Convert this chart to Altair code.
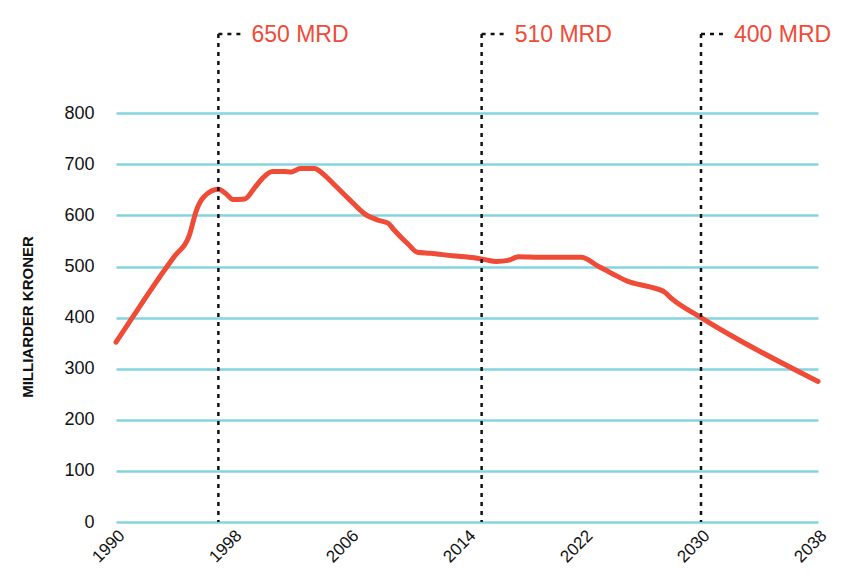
import altair as alt
import pandas as pd

# Series
years = [1990, 1991, 1992, 1993, 1994, 1995, 1995.5, 1996, 1997, 1997.5, 1998, 1998.8,
         1999.5, 2000, 2000.7, 2001.5, 2002, 2002.6, 2003.6, 2004, 2005, 2006, 2007,
         2008, 2008.6, 2009, 2010, 2010.6, 2011.5, 2013, 2014.5, 2015.3, 2016, 2016.8,
         2017.5, 2019, 2021.8, 2023, 2024, 2025, 2026.5, 2027.5, 2028, 2030, 2038]
values = [352, 395, 438, 480, 520, 560, 610, 636, 651, 643, 631, 632,
          655, 672, 686, 686, 685, 692, 692, 685, 658, 630, 603,
          590, 585, 572, 543, 528, 526, 521, 517, 513, 510, 512,
          519, 518, 518, 500, 485, 471, 460, 450, 437, 400, 275]

# Annotations
mark_years = [1997, 2015, 2030]
mark_labels = ["650 MRD", "510 MRD", "400 MRD"]

x_ticks = [1990, 1998, 2006, 2014, 2022, 2030, 2038]
y_ticks = [0, 100, 200, 300, 400, 500, 600, 700, 800]

FONT = "Liberation Sans, Arial, sans-serif"
RED = "#f04b37"
GRID = "#84d4e0"

df = pd.DataFrame({"year": years, "value": values})
ann = pd.DataFrame({"year": mark_years, "label": mark_labels})

xscale = alt.Scale(domain=[1990, 2038], nice=False, zero=False)
yscale = alt.Scale(domain=[0, 955], nice=False)

line = alt.Chart(df).mark_line(
    color=RED, strokeWidth=5, interpolate="monotone", strokeCap="round"
).encode(
    x=alt.X("year:Q", scale=xscale,
            axis=alt.Axis(values=x_ticks, format="d", title=None, grid=False,
                          labelAngle=-45, labelFont=FONT, labelFontSize=17,
                          labelColor="#111", domain=False, ticks=False,
                          labelPadding=5)),
    y=alt.Y("value:Q", scale=yscale,
            axis=alt.Axis(values=y_ticks, title=None, grid=True, gridColor=GRID,
                          gridWidth=2.5, labelFont=FONT, labelFontSize=18,
                          labelColor="#111", domain=False, ticks=False,
                          labelPadding=22)),
)

vrules = alt.Chart(ann).mark_rule(
    color="#111", strokeWidth=2.5, strokeDash=[4, 5]
).encode(
    x=alt.X("year:Q", scale=xscale),
    y=alt.value(0),
    y2=alt.value(488),
)

hrules = alt.Chart(ann).transform_calculate(
    year2="datum.year + 1.6"
).mark_rule(
    color="#111", strokeWidth=2.5, strokeDash=[4, 5]
).encode(
    x=alt.X("year:Q", scale=xscale),
    x2="year2:Q",
    y=alt.value(0),
)

labels = alt.Chart(ann).mark_text(
    color=RED, font=FONT, fontSize=23, align="left", baseline="alphabetic", dx=33
).encode(
    x=alt.X("year:Q", scale=xscale),
    y=alt.value(8),
    text="label:N",
)

ytitle = alt.Chart(pd.DataFrame({"t": ["MILLIARDER KRONER"]})).mark_text(
    font=FONT, fontSize=15, fontWeight="bold", color="#111", angle=270,
    align="center", baseline="middle"
).encode(
    x=alt.value(-88),
    y=alt.value(283),
    text="t:N",
)

chart = alt.layer(line, vrules, hrules, labels, ytitle).properties(
    width=702,
    height=488,
    autosize=alt.AutoSizeParams(type="none"),
    padding={"left": 108, "top": 26, "right": 17, "bottom": 50},
    background="white",
).configure_view(stroke=None)

chart.save("out.html", embed_options={"renderer": "svg", "actions": False})
